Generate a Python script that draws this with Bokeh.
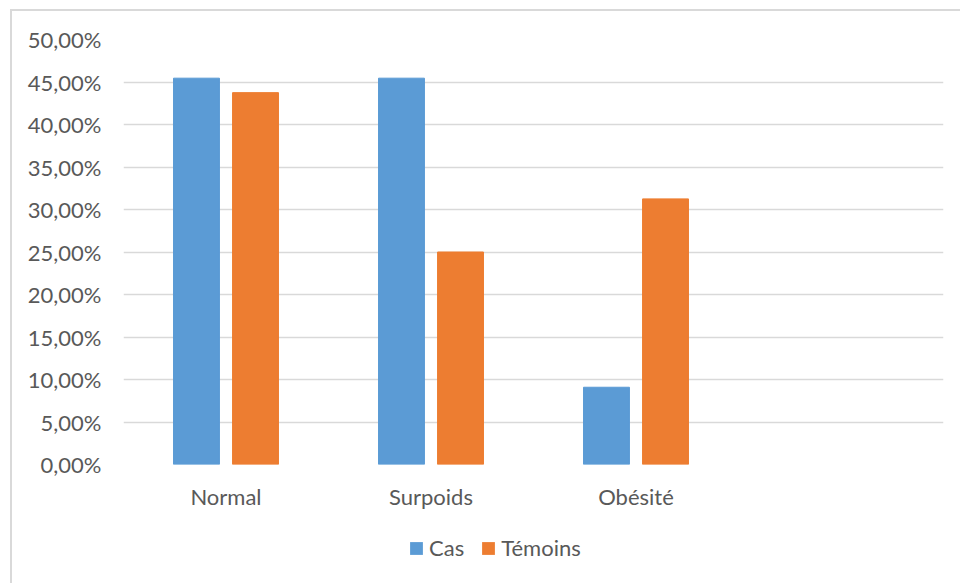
from bokeh.plotting import figure
from bokeh.layouts import column
from bokeh.models import (ColumnDataSource, FactorRange, Range1d, FixedTicker,
                          CustomJSTickFormatter, Legend, LegendItem)
from bokeh.transform import dodge
from bokeh.embed import file_html
from bokeh.resources import INLINE

# Weight categories (last slot left empty, as in the original sheet)
categories = ["Normal", "Surpoids", "Obésité"]
cas = [45.45, 45.45, 9.09]          # % of cases
temoins = [43.75, 25.00, 31.25]     # % of controls
series_names = ["Cas", "Témoins"]
series_colors = ["#5B9BD5", "#ED7D31"]
y_ticks = [0, 5, 10, 15, 20, 25, 30, 35, 40, 45, 50]

GRID = "#D9D9D9"
TEXT = "#595959"
FONT = "Lato"
FSIZE = "22px"

W, H = 948, 572          # inside the chart frame
LEG_H = 63               # strip holding the legend

factors = categories + [" "]
src = ColumnDataSource(dict(cat=categories, cas=cas, temoins=temoins))

p = figure(x_range=FactorRange(*factors, range_padding=0),
           y_range=Range1d(0, 50),
           width=W, height=H - LEG_H,
           output_backend="svg", toolbar_location=None,
           min_border_left=111, min_border_right=17,
           min_border_top=28, min_border_bottom=56)
p.outline_line_color = None
p.background_fill_color = "white"
p.border_fill_color = "white"

r_cas = p.vbar(x=dodge("cat", -0.144, range=p.x_range), top="cas", width=0.224,
               source=src, fill_color=series_colors[0], line_color=series_colors[0])
r_tem = p.vbar(x=dodge("cat", 0.144, range=p.x_range), top="temoins", width=0.224,
               source=src, fill_color=series_colors[1], line_color=series_colors[1])

# Axes
p.yaxis.ticker = FixedTicker(ticks=y_ticks)
p.yaxis.formatter = CustomJSTickFormatter(
    code="return tick.toFixed(2).replace('.', ',') + '%';")
for ax in (p.xaxis, p.yaxis):
    ax.axis_line_color = None
    ax.major_tick_line_color = None
    ax.minor_tick_line_color = None
    ax.major_label_text_font = FONT
    ax.major_label_text_font_size = FSIZE
    ax.major_label_text_color = TEXT
p.yaxis.major_label_standoff = 16
p.xaxis.major_label_standoff = 12

p.xgrid.grid_line_color = None
p.ygrid.ticker = FixedTicker(ticks=y_ticks)
p.ygrid.grid_line_color = GRID
p.ygrid.grid_line_width = 1.5

# Legend strip under the chart: flat (zero-height) swatch renderers feed the legend
leg = figure(width=W, height=LEG_H, x_range=Range1d(0, 1), y_range=Range1d(0, 1),
             output_backend="svg", toolbar_location=None,
             min_border=0, x_axis_type=None, y_axis_type=None)
leg.outline_line_color = None
leg.grid.visible = False
swatches = [leg.vbar(x=[0.5], top=[0], bottom=[0], width=0.1,
                     fill_color=c, line_color=None)
            for c in series_colors]
legend = Legend(items=[LegendItem(label=n, renderers=[r])
                       for n, r in zip(series_names, swatches)],
                orientation="horizontal", location=(285, 22),
                border_line_color=None, background_fill_alpha=0,
                label_text_font=FONT, label_text_font_size=FSIZE,
                label_text_color=TEXT, glyph_width=16, glyph_height=16,
                label_standoff=5, spacing=16, padding=0, margin=0)
leg.add_layout(legend, "center")

layout = column(p, leg, spacing=0)
layout.margin = (9, 0, 0, 10)
layout.styles = {"border-left": f"2px solid {GRID}", "border-top": f"2px solid {GRID}"}

open("out.html", "w").write(file_html(layout, INLINE))
